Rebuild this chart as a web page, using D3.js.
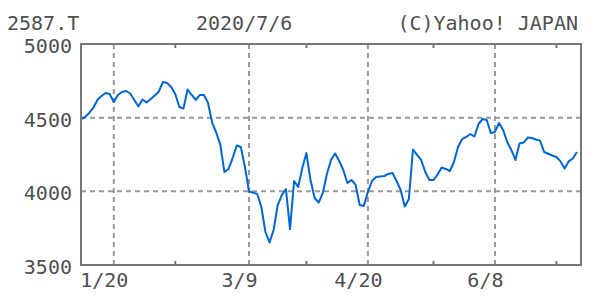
<!DOCTYPE html>
<html>
<head>
<meta charset="utf-8">
<script src="https://d3js.org/d3.v7.min.js"></script>
<style>
  body { margin: 0; background: #fff; }
  text { font-family: "DejaVu Sans Mono", monospace; font-size: 20px; fill: #505050; }
</style>
</head>
<body>
<div id="chart"></div>
<script>

// daily closes, 2587.T, trading days from 2020/1/7 to 2020/7/6
var closes = [
  4488, 4505, 4532, 4566, 4620, 4647, 4667, 4661, 4606, 4654,
  4674, 4681, 4664, 4620, 4576, 4623, 4603, 4627, 4650, 4678,
  4742, 4735, 4708, 4661, 4572, 4562, 4691, 4654, 4620, 4654,
  4654, 4600, 4467, 4399, 4315, 4131, 4152, 4226, 4311, 4301,
  4165, 3999, 3991, 3982, 3894, 3724, 3653, 3738, 3907, 3975,
  4016, 3744, 4070, 4029, 4158, 4260, 4077, 3955, 3924, 3989,
  4118, 4213, 4257, 4206, 4145, 4057, 4077, 4046, 3907, 3900,
  3996, 4070, 4097, 4101, 4104, 4118, 4124, 4070, 4009, 3897,
  3948, 4284, 4247, 4213, 4131, 4077, 4077, 4114, 4162, 4152,
  4138, 4199, 4301, 4355, 4369, 4389, 4372, 4457, 4491, 4484,
  4396, 4403, 4464, 4416, 4335, 4281, 4213, 4325, 4331, 4365,
  4362, 4352, 4344, 4267, 4255, 4243, 4233, 4203, 4155, 4203,
  4223, 4267
];

// labelled x ticks (trading-day index) and the small unlabelled ones
var xTickIdx = [8, 41, 70, 101];
var xTickLabels = ["1/20", "3/9", "4/20", "6/8"];
var xMinorIdx = [23, 55, 86, 116];
var yTicks = [3500, 4000, 4500, 5000];

var symbol = "2587.T";
var dateLabel = "2020/7/6";
var credit = "(C)Yahoo! JAPAN";

var margin = {top: 44, right: 19, bottom: 31, left: 81},
    width = 600 - margin.left - margin.right,
    height = 296 - margin.top - margin.bottom;

var svg = d3.select("#chart")
  .append("svg")
    .attr("width", 600)
    .attr("height", 296);

var g = svg.append("g")
    .attr("transform", "translate(" + margin.left + "," + margin.top + ")");

var x = d3.scaleLinear()
  .domain([0, 122])
  .range([0, width]);

var y = d3.scaleLinear()
  .domain([3500, 5000])
  .range([height, 0]);

// dashed grid
g.append("g")
  .selectAll("line")
  .data(yTicks.slice(1, 3))
  .enter()
  .append("line")
    .attr("x1", 0)
    .attr("x2", width)
    .attr("y1", function(d) { return y(d); })
    .attr("y2", function(d) { return y(d); })
    .attr("stroke", "#999")
    .attr("stroke-width", 2)
    .attr("stroke-dasharray", "5,4");

g.append("g")
  .selectAll("line")
  .data(xTickIdx)
  .enter()
  .append("line")
    .attr("x1", function(d) { return x(d); })
    .attr("x2", function(d) { return x(d); })
    .attr("y1", 0)
    .attr("y2", height)
    .attr("stroke", "#999")
    .attr("stroke-width", 2)
    .attr("stroke-dasharray", "5,4");

// small ticks on top and bottom edges
g.append("g")
  .selectAll("line")
  .data(xMinorIdx)
  .enter()
  .append("line")
    .attr("x1", function(d) { return x(d); })
    .attr("x2", function(d) { return x(d); })
    .attr("y1", height)
    .attr("y2", height - 4)
    .attr("stroke", "#777")
    .attr("stroke-width", 2);

g.append("g")
  .selectAll("line")
  .data(xMinorIdx)
  .enter()
  .append("line")
    .attr("x1", function(d) { return x(d); })
    .attr("x2", function(d) { return x(d); })
    .attr("y1", 0)
    .attr("y2", 4)
    .attr("stroke", "#777")
    .attr("stroke-width", 2);

// price line
var line = d3.line()
  .x(function(d, i) { return x(i); })
  .y(function(d) { return y(d); });

g.append("path")
  .datum(closes)
  .attr("fill", "none")
  .attr("stroke", "#0066dd")
  .attr("stroke-width", 2)
  .attr("stroke-linejoin", "round")
  .attr("d", line);

// frame
g.append("rect")
  .attr("x", 0)
  .attr("y", 0)
  .attr("width", width)
  .attr("height", height)
  .attr("fill", "none")
  .attr("stroke", "#777")
  .attr("stroke-width", 2);

// y labels
var yAxis = g.append("g")
  .call(d3.axisLeft(y)
    .tickValues(yTicks)
    .tickFormat(d3.format("d"))
    .tickSize(0)
    .tickPadding(9));
yAxis.select(".domain").remove();
yAxis.selectAll("text")
  .attr("dy", "0.38em")
  .attr("y", 1)
  .style("font-family", "'DejaVu Sans Mono', monospace")
  .style("font-size", "20px")
  .attr("fill", "#505050");

// x labels
var xAxis = g.append("g")
  .attr("transform", "translate(0," + height + ")")
  .call(d3.axisBottom(x)
    .tickValues(xTickIdx)
    .tickFormat(function(d, i) { return xTickLabels[i]; })
    .tickSize(0)
    .tickPadding(8));
xAxis.select(".domain").remove();
xAxis.selectAll("text")
  .attr("dx", -10)
  .attr("dy", "0.71em")
  .style("font-family", "'DejaVu Sans Mono', monospace")
  .style("font-size", "20px")
  .attr("fill", "#505050");

// header
svg.append("text")
  .attr("x", 7)
  .attr("y", 30)
  .text(symbol);

svg.append("text")
  .attr("x", 196)
  .attr("y", 30)
  .text(dateLabel);

svg.append("text")
  .attr("x", 578)
  .attr("y", 30)
  .style("text-anchor", "end")
  .text(credit);

</script>
</body>
</html>
